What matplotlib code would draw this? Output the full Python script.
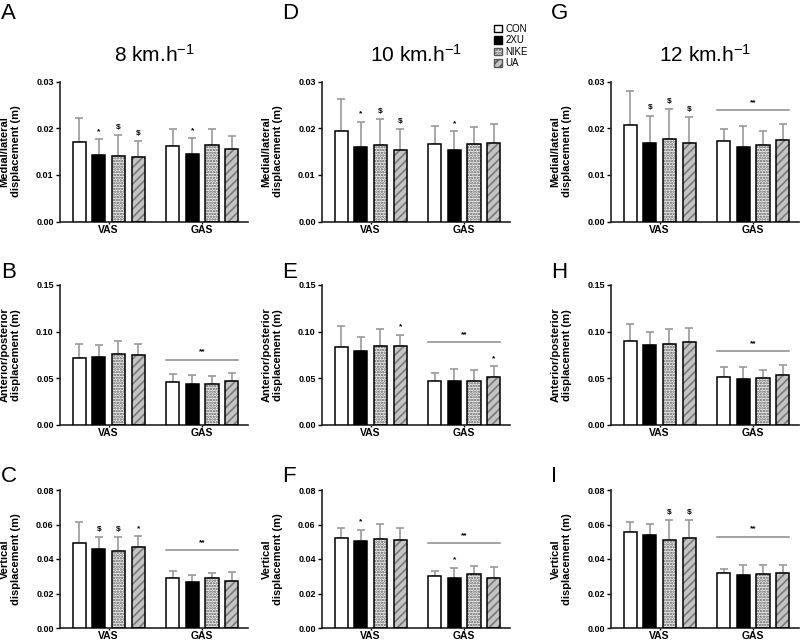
import matplotlib
matplotlib.use("Agg")
import matplotlib.pyplot as plt
from matplotlib.patches import Patch
import numpy as np

plt.rcParams['font.family'] = ['Liberation Sans', 'DejaVu Sans']
plt.rcParams['mathtext.fontset'] = 'custom'
plt.rcParams['mathtext.rm'] = 'Liberation Sans'
plt.rcParams['mathtext.it'] = 'Liberation Sans'
plt.rcParams['hatch.linewidth'] = 1.2

groups = ['VAS', 'GAS']
conditions = ['CON', '2XU', 'NIKE', 'UA']
speeds = ['8', '10', '12']

# means, rows = [VAS, GAS], cols = conditions
ml_8 = [[0.0171, 0.0143, 0.0141, 0.0138], [0.0162, 0.0144, 0.0164, 0.0156]]
ml_8_sd = [[0.0050, 0.0033, 0.0045, 0.0035], [0.0037, 0.0035, 0.0035, 0.0028]]
ml_10 = [[0.0194, 0.0159, 0.0164, 0.0154], [0.0166, 0.0154, 0.0166, 0.0169]]
ml_10_sd = [[0.0068, 0.0055, 0.0055, 0.0044], [0.0038, 0.0040, 0.0037, 0.0041]]
ml_12 = [[0.0206, 0.0169, 0.0176, 0.0168], [0.0172, 0.0160, 0.0164, 0.0174]]
ml_12_sd = [[0.0073, 0.0058, 0.0064, 0.0056], [0.0026, 0.0044, 0.0029, 0.0035]]

ap_8 = [[0.072, 0.073, 0.076, 0.075], [0.046, 0.044, 0.044, 0.047]]
ap_8_sd = [[0.015, 0.013, 0.014, 0.012], [0.009, 0.010, 0.009, 0.009]]
ap_10 = [[0.0836, 0.0789, 0.0846, 0.0846], [0.0475, 0.0475, 0.0475, 0.0518]]
ap_10_sd = [[0.0228, 0.0154, 0.0179, 0.0122], [0.0082, 0.0125, 0.0111, 0.0114]]
ap_12 = [[0.0900, 0.0862, 0.0865, 0.0885], [0.0514, 0.0496, 0.0507, 0.0535]]
ap_12_sd = [[0.0180, 0.0131, 0.0160, 0.0155], [0.0106, 0.0124, 0.0078, 0.0107]]

v_8 = [[0.0490, 0.0457, 0.0448, 0.0468], [0.0287, 0.0268, 0.0292, 0.0270]]
v_8_sd = [[0.0122, 0.0068, 0.0079, 0.0064], [0.0043, 0.0039, 0.0028, 0.0057]]
v_10 = [[0.0522, 0.0503, 0.0518, 0.0512], [0.0303, 0.0292, 0.0315, 0.0291]]
v_10_sd = [[0.0060, 0.0067, 0.0086, 0.0065], [0.0030, 0.0057, 0.0047, 0.0063]]
v_12 = [[0.0554, 0.0537, 0.0512, 0.0524], [0.0316, 0.0309, 0.0312, 0.0316]]
v_12_sd = [[0.0058, 0.0066, 0.0114, 0.0102], [0.0028, 0.0054, 0.0051, 0.0052]]

# significance marks: (group, condition, symbol)
marks = {
    'A': [(0, 1, '*'), (0, 2, '$'), (0, 3, '$'), (1, 1, '*')],
    'D': [(0, 1, '*'), (0, 2, '$'), (0, 3, '$'), (1, 1, '*')],
    'G': [(0, 1, '$'), (0, 2, '$'), (0, 3, '$')],
    'B': [],
    'E': [(0, 3, '*'), (1, 3, '*')],
    'H': [],
    'C': [(0, 1, '$'), (0, 2, '$'), (0, 3, '*')],
    'F': [(0, 1, '*'), (1, 1, '*')],
    'I': [(0, 2, '$'), (0, 3, '$')],
}
# "**" line over GAS group (None = no line)
gas_line = {'A': None, 'D': None, 'G': 0.0238,
            'B': 0.070, 'E': 0.089, 'H': 0.079,
            'C': 0.045, 'F': 0.049, 'I': 0.053}

rows = [
    ('Medial/lateral\ndisplacement (m)', 0.03, 0.01, [ml_8, ml_10, ml_12], [ml_8_sd, ml_10_sd, ml_12_sd], 'ADG'),
    ('Anterior/posterior\ndisplacement (m)', 0.15, 0.05, [ap_8, ap_10, ap_12], [ap_8_sd, ap_10_sd, ap_12_sd], 'BEH'),
    ('Vertical\ndisplacement (m)', 0.08, 0.02, [v_8, v_10, v_12], [v_8_sd, v_10_sd, v_12_sd], 'CFI'),
]

W, H = 800, 641
fig = plt.figure(figsize=(8, 6.41), dpi=100)

col_left = [60, 322, 611]
ax_w = 188
row_top = [81.5, 285, 490]
row_bot = [221.5, 425, 628]
letter_x = [1, 282, 551]
letter_y = [3, 262, 466]

offsets = np.array([-0.316, -0.105, 0.105, 0.316])
bw = 0.14
face = ['white', 'black', '#f2f2f2', '#c4c4c4']
hatch = [None, None, '......', '////']
hcol = [None, None, '#5a5a5a', '#7a7a7a']

for r, (ylab, ymax, ystep, data, sds, letters) in enumerate(rows):
    for c in range(3):
        ax = fig.add_axes([col_left[c] / W, 1 - row_bot[r] / H, ax_w / W, (row_bot[r] - row_top[r]) / H])
        m = np.array(data[c])
        s = np.array(sds[c])
        for k in range(4):
            xs = np.arange(2) + offsets[k]
            if hatch[k]:
                ax.bar(xs, m[:, k], bw, color=face[k], edgecolor=hcol[k], hatch=hatch[k], lw=0, zorder=2)
                ax.bar(xs, m[:, k], bw, color='none', edgecolor='black', lw=1.1, zorder=3)
            else:
                ax.bar(xs, m[:, k], bw, color=face[k], edgecolor='black', lw=1.1, zorder=3)
            ax.errorbar(xs, m[:, k], yerr=[np.zeros(2), s[:, k]], fmt='none',
                        ecolor='#9a9a9a', elinewidth=1.2, capsize=3, capthick=1.2, zorder=1)
        L = letters[c]
        for g, k, sym in marks[L]:
            ax.annotate(sym, (g + offsets[k], m[g, k] + s[g, k]), xytext=(0, 3),
                        textcoords='offset points', ha='center', va='bottom',
                        fontsize=6, fontweight='bold')
        if gas_line[L] is not None:
            ax.plot([1 + offsets[0] - bw / 2, 1 + offsets[3] + bw / 2], [gas_line[L]] * 2,
                    color='#8a8a8a', lw=1.1)
            ax.annotate('**', (1, gas_line[L]), xytext=(0, 3), textcoords='offset points',
                        ha='center', va='bottom', fontsize=6, fontweight='bold')
        ax.set_xlim(-0.52, 1.49)
        ax.set_ylim(0, ymax)
        ax.set_yticks(np.arange(0, ymax + ystep / 2, ystep))
        ax.yaxis.set_major_formatter(matplotlib.ticker.FormatStrFormatter('%.2f'))
        ax.set_xticks([0, 1])
        ax.set_xticklabels(groups, fontsize=7.5, fontweight='bold')
        for t in ax.get_yticklabels():
            t.set_fontweight('bold')
            t.set_fontsize(6.5)
        ax.tick_params(axis='y', length=3, width=1, pad=1.5)
        ax.tick_params(axis='x', length=1.5, width=1, pad=1)
        for sp in ['top', 'right']:
            ax.spines[sp].set_visible(False)
        for sp in ['left', 'bottom']:
            ax.spines[sp].set_linewidth(1.2)
            ax.spines[sp].set_color('#222222')
        ax.set_ylabel(ylab, fontsize=8, fontweight='bold', linespacing=1.1)
        ax.yaxis.set_label_coords(-0.21, 0.5)
        fig.text(letter_x[c] / W, 1 - letter_y[r] / H, L, fontsize=16, ha='left', va='top')
        if r == 0:
            fig.text((col_left[c] + ax_w / 2) / W, 1 - 55 / H, speeds[c] + r' km.h$^{-1}$',
                     fontsize=15, ha='center', va='center')

handles = [Patch(facecolor='white', edgecolor='black'),
           Patch(facecolor='black', edgecolor='black'),
           Patch(facecolor='#f2f2f2', edgecolor='#555555', hatch='......'),
           Patch(facecolor='#c4c4c4', edgecolor='#555555', hatch='////')]
fig.legend(handles, conditions, loc='upper left', bbox_to_anchor=(489 / W, 1 - 19 / H),
           frameon=False, fontsize=7, handlelength=0.8, handleheight=0.8,
           handletextpad=0.4, labelspacing=0.15, borderpad=0)

fig.savefig('out.png', dpi=100)
